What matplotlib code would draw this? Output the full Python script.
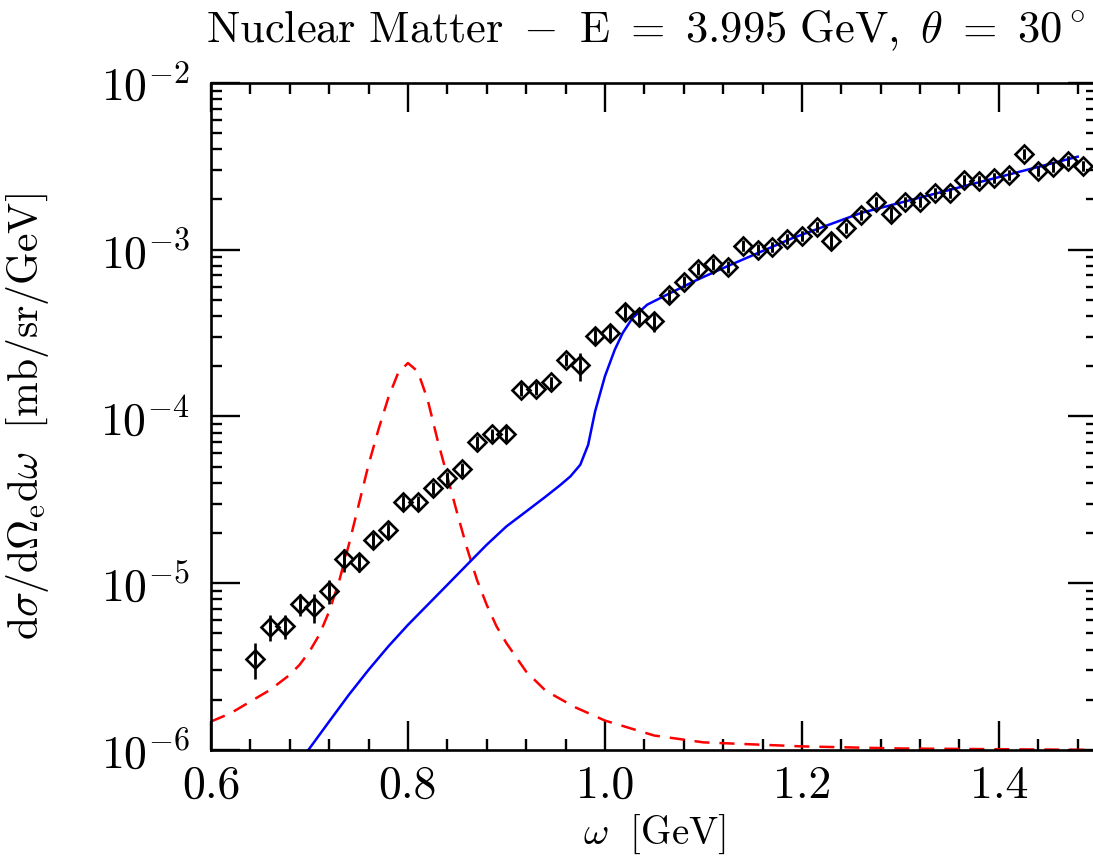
import matplotlib
matplotlib.use('Agg')
import matplotlib.pyplot as plt
from matplotlib.ticker import FixedLocator, FixedFormatter, NullFormatter

plt.rcParams['font.family'] = 'cmr10'
plt.rcParams['mathtext.fontset'] = 'cm'
plt.rcParams['axes.formatter.use_mathtext'] = True

# measured data points (omega in GeV, cross section in mb/sr/GeV)
omega_data = [0.645, 0.660, 0.675, 0.690, 0.705, 0.720, 0.735, 0.750, 0.765, 0.780,
              0.795, 0.810, 0.825, 0.840, 0.855, 0.870, 0.885, 0.900, 0.915, 0.930,
              0.945, 0.960, 0.975, 0.990, 1.005, 1.020, 1.035, 1.050, 1.065, 1.080,
              1.095, 1.110, 1.125, 1.140, 1.155, 1.170, 1.185, 1.200, 1.215, 1.230,
              1.245, 1.260, 1.275, 1.290, 1.305, 1.320, 1.335, 1.350, 1.365, 1.380,
              1.395, 1.410, 1.425, 1.440, 1.455, 1.470, 1.485]
xsec_data = [3.51e-6, 5.46e-6, 5.53e-6, 7.49e-6, 7.18e-6, 8.95e-6, 1.39e-5, 1.34e-5, 1.81e-5, 2.07e-5,
             3.05e-5, 3.05e-5, 3.71e-5, 4.26e-5, 4.82e-5, 6.98e-5, 7.80e-5, 7.80e-5, 1.45e-4, 1.47e-4,
             1.60e-4, 2.19e-4, 2.02e-4, 3.05e-4, 3.18e-4, 4.25e-4, 3.97e-4, 3.71e-4, 5.31e-4, 6.43e-4,
             7.69e-4, 8.24e-4, 7.91e-4, 1.057e-3, 1.00e-3, 1.04e-3, 1.16e-3, 1.21e-3, 1.37e-3, 1.13e-3,
             1.35e-3, 1.62e-3, 1.94e-3, 1.64e-3, 1.94e-3, 1.94e-3, 2.19e-3, 2.19e-3, 2.62e-3, 2.59e-3,
             2.70e-3, 2.81e-3, 3.76e-3, 2.97e-3, 3.14e-3, 3.41e-3, 3.18e-3]
# absolute errors
xsec_err = [0.85e-6, 0.95e-6, 0.90e-6, 1.1e-6, 1.4e-6, 1.5e-6, 2.2e-6, 1.7e-6, 2.0e-6, 2.2e-6,
            3.5e-6, 3.0e-6, 3.2e-6, 3.6e-6, 4.0e-6, 6.0e-6, 6.5e-6, 9.0e-6, 1.3e-5, 1.3e-5,
            1.3e-5, 1.8e-5, 3.8e-5, 3.4e-5, 3.6e-5, 4.4e-5, 4.5e-5, 5.0e-5, 4.8e-5, 5.3e-5,
            6.2e-5, 6.6e-5, 6.3e-5, 8.0e-5, 7.5e-5, 7.8e-5, 8.5e-5, 8.8e-5, 1.0e-4, 1.2e-4,
            1.0e-4, 1.15e-4, 1.4e-4, 1.5e-4, 1.4e-4, 1.4e-4, 1.5e-4, 1.5e-4, 1.8e-4, 1.8e-4,
            1.85e-4, 1.9e-4, 2.5e-4, 2.0e-4, 2.1e-4, 2.3e-4, 2.2e-4]

# blue solid curve
omega_blue = [0.690, 0.700, 0.720, 0.740, 0.760, 0.780, 0.800, 0.820, 0.840, 0.860,
              0.880, 0.900, 0.920, 0.940, 0.955, 0.965, 0.975, 0.983, 0.990, 1.000,
              1.010, 1.018, 1.028, 1.043, 1.063, 1.094, 1.124, 1.190, 1.260, 1.370,
              1.480]
xsec_blue = [8.51e-7, 1.02e-6, 1.48e-6, 2.14e-6, 3.02e-6, 4.17e-6, 5.62e-6, 7.41e-6, 9.77e-6, 1.29e-5,
             1.70e-5, 2.19e-5, 2.69e-5, 3.31e-5, 3.89e-5, 4.37e-5, 5.13e-5, 6.76e-5, 1.07e-4, 1.74e-4,
             2.51e-4, 3.16e-4, 3.89e-4, 4.68e-4, 5.37e-4, 6.61e-4, 7.94e-4, 1.17e-3, 1.66e-3, 2.45e-3,
             3.61e-3]

# red dashed curve
omega_red = [0.600, 0.620, 0.640, 0.660, 0.680, 0.690, 0.700, 0.710, 0.720, 0.730,
             0.740, 0.750, 0.760, 0.770, 0.780, 0.790, 0.800, 0.810, 0.820, 0.830,
             0.840, 0.850, 0.860, 0.870, 0.880, 0.890, 0.900, 0.920, 0.940, 0.970,
             1.000, 1.050, 1.100, 1.200, 1.300, 1.500]
xsec_red = [1.48e-6, 1.66e-6, 1.95e-6, 2.29e-6, 2.82e-6, 3.24e-6, 3.89e-6, 4.90e-6, 6.76e-6, 1.02e-5,
            1.70e-5, 2.95e-5, 5.13e-5, 8.32e-5, 1.29e-4, 1.82e-4, 2.09e-4, 1.86e-4, 1.26e-4, 7.24e-5,
            4.37e-5, 2.63e-5, 1.62e-5, 1.05e-5, 7.41e-6, 5.50e-6, 4.37e-6, 2.95e-6, 2.26e-6, 1.80e-6,
            1.50e-6, 1.22e-6, 1.11e-6, 1.05e-6, 1.02e-6, 1.00e-6]

x_major = [0.6, 0.8, 1.0, 1.2, 1.4]
x_labels = ['0.6', '0.8', '1.0', '1.2', '1.4']
x_minor = [0.64, 0.68, 0.72, 0.76, 0.84, 0.88, 0.92, 0.96, 1.04, 1.08, 1.12, 1.16,
           1.24, 1.28, 1.32, 1.36, 1.44, 1.48]
y_major = [1e-6, 1e-5, 1e-4, 1e-3, 1e-2]
y_labels = [r'$10^{-6}$', r'$10^{-5}$', r'$10^{-4}$', r'$10^{-3}$', r'$10^{-2}$']

fig = plt.figure(figsize=(10.93, 8.6), dpi=100)
ax = fig.add_axes([0.193, 0.128, 0.811, 0.7756])

ax.plot(omega_red, xsec_red, color='red', linestyle=(0, (6, 4)), linewidth=1.8)
ax.plot(omega_blue, xsec_blue, color='blue', linewidth=1.8)
ax.errorbar(omega_data, xsec_data, yerr=xsec_err, fmt='D', markersize=9,
            markerfacecolor='none', markeredgecolor='black', markeredgewidth=1.9,
            ecolor='black', elinewidth=1.9, capsize=0)
ax.vlines(omega_data, [v * 0.93 for v in xsec_data], [v * 1.07 for v in xsec_data],
          color='black', linewidth=1.9)

ax.set_yscale('log')
ax.set_xlim(0.6, 1.5)
ax.set_ylim(1e-6, 1e-2)

ax.xaxis.set_major_locator(FixedLocator(x_major))
ax.xaxis.set_major_formatter(FixedFormatter(x_labels))
ax.xaxis.set_minor_locator(FixedLocator(x_minor))
ax.yaxis.set_major_locator(FixedLocator(y_major))
ax.yaxis.set_major_formatter(FixedFormatter(y_labels))
ax.yaxis.set_minor_formatter(NullFormatter())

ax.tick_params(which='both', direction='in', top=True, right=True, width=1.7,
               labelsize=33, colors='black')
ax.tick_params(which='major', length=21)
ax.tick_params(which='minor', length=8)
ax.tick_params(axis='x', which='major', pad=11)
ax.tick_params(axis='y', which='major', pad=15)
for s in ax.spines.values():
    s.set_linewidth(1.9)

ax.set_xlabel(r'$\omega\ \ \mathrm{[GeV]}$', fontsize=28)
ax.xaxis.set_label_coords(0.5, -0.094)
ax.set_ylabel(r'$\mathrm{d}\sigma/\mathrm{d}\Omega_\mathrm{e}\mathrm{d}\omega\ \ \mathrm{[mb/sr/GeV]}$',
              fontsize=30)
ax.yaxis.set_label_coords(-0.181, 0.5)
fig.text(0.591, 0.951,
         r'$\mathrm{Nuclear\ Matter\ -\ E\ =\ 3.995\ GeV,}\ \theta\ =\ 30^\circ$',
         fontsize=32, ha='center', va='baseline')

fig.savefig('out.png', dpi=100)
